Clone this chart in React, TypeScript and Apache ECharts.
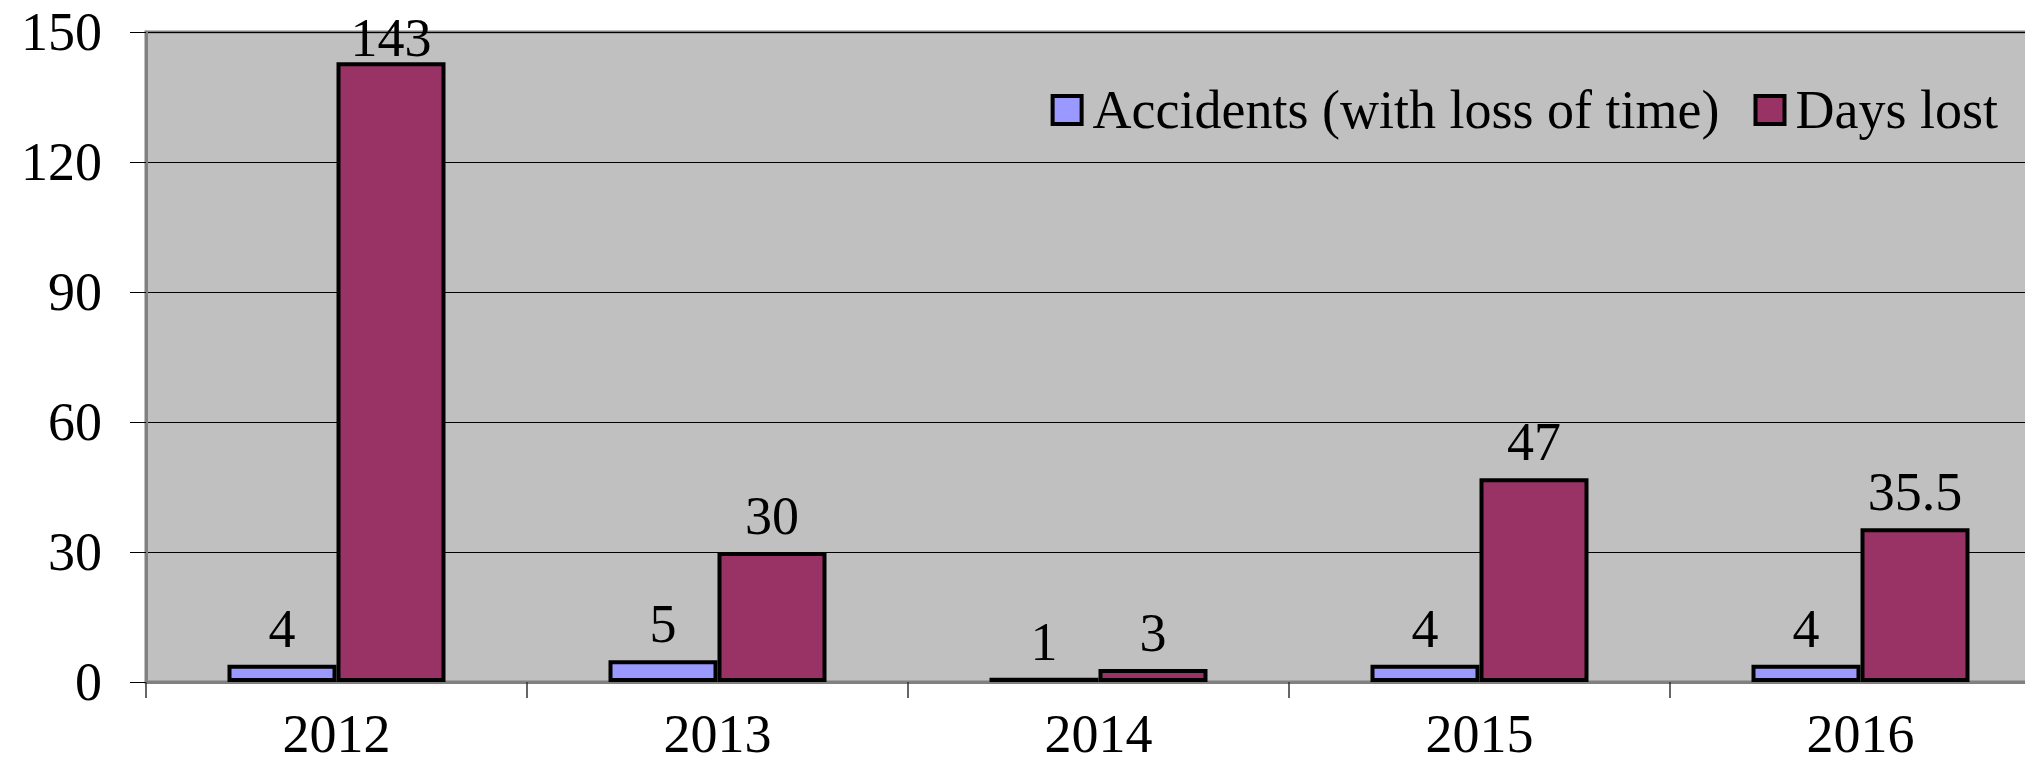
import React, { useEffect, useRef } from "react";
import * as echarts from "echarts";

const years = ["2012", "2013", "2014", "2015", "2016"];
const accidents = [4, 5, 1, 4, 4];
const daysLost = [143, 30, 3, 47, 35.5];
const seriesNames = ["Accidents (with loss of time)", "Days lost"];

const FONT = "'Liberation Serif', 'Times New Roman', serif";
const CHART_W = 2060;

export default function App() {
  const ref = useRef<HTMLDivElement>(null);
  useEffect(() => {
    document.body.style.margin = "0";
    const chart = echarts.init(ref.current!, undefined, { renderer: "svg" });
    const labelStyle = {
      show: true,
      position: "top" as const,
      distance: 9,
      color: "#000",
      fontSize: 54,
      fontFamily: FONT,
    };
    const yMax = 150;
    const daysData = daysLost.map((v) =>
      v / yMax > 0.9 ? { value: v, label: { distance: -3 } } : v
    );
    chart.setOption({
      animation: false,
      backgroundColor: "#fff",
      textStyle: { fontFamily: FONT },
      grid: {
        left: 146,
        right: CHART_W - 146 - 1905,
        top: 32,
        bottom: 82,
        show: true,
        backgroundColor: "#C0C0C0",
        borderColor: "#808080",
        borderWidth: 3,
      },
      legend: {
        right: CHART_W - 2003,
        top: 78,
        itemWidth: 29,
        itemHeight: 28,
        itemGap: 34,
        textStyle: { fontSize: 54, fontFamily: FONT, color: "#000", padding: [0, 0, 0, 6] },
        itemStyle: { borderColor: "#000", borderWidth: 4 },
        data: [
          { name: seriesNames[0], icon: "rect" },
          { name: seriesNames[1], icon: "rect" },
        ],
      },
      xAxis: {
        type: "category",
        data: years,
        axisLine: { lineStyle: { color: "#808080", width: 3 } },
        axisTick: { show: true, length: 16, lineStyle: { color: "#333", width: 1.5 } },
        axisLabel: { color: "#000", fontSize: 54, fontFamily: FONT, margin: 25 },
      },
      yAxis: {
        type: "value",
        min: 0,
        max: yMax,
        interval: 30,
        axisLine: { show: true, lineStyle: { color: "#808080", width: 3 } },
        axisTick: { show: true, length: 16, lineStyle: { color: "#000", width: 1 } },
        axisLabel: { color: "#000", fontSize: 54, fontFamily: FONT, margin: 44 },
        splitLine: { show: true, lineStyle: { color: "#000", width: 1 } },
      },
      series: [
        {
          name: seriesNames[0],
          type: "bar",
          data: accidents,
          barWidth: 109,
          barGap: "0%",
          itemStyle: { color: "#9999FF", borderColor: "#000", borderWidth: 4 },
          label: labelStyle,
        },
        {
          name: seriesNames[1],
          type: "bar",
          data: daysData,
          barWidth: 109,
          barGap: "0%",
          itemStyle: { color: "#993366", borderColor: "#000", borderWidth: 4 },
          label: labelStyle,
        },
      ],
    });
    return () => chart.dispose();
  }, []);
  return (
    <div style={{ width: 2025, height: 764, overflow: "hidden" }}>
      <div ref={ref} style={{ width: CHART_W, height: 764 }} />
    </div>
  );
}
